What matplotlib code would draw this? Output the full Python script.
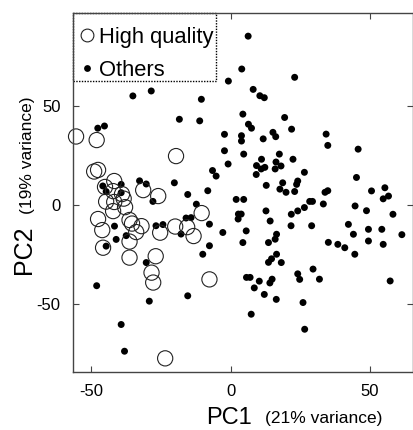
import matplotlib
matplotlib.use("Agg")
import matplotlib.pyplot as plt
from matplotlib.lines import Line2D
from matplotlib.patches import Rectangle

# ---- data ----
hq_pc1 = [-55.5, -48.1, -49.0, -47.6, -19.6, -41.8, -31.4, -26.0, -45.1, -42.2,
          -39.0, -44.7, -41.8, -38.4, -42.2, -37.9, -10.4, -47.6, -46.1, -36.3,
          -35.4, -32.0, -33.9, -36.3, -45.8, -36.3, -25.3, -19.9, -15.6, -13.3,
          -26.9, -28.4, -27.8, -7.6, -23.5]
hq_pc2 = [34.8, 33.0, 17.1, 17.9, 24.9, 12.3, 7.7, 4.7, 9.3, 7.2,
          5.7, 1.9, 1.7, 3.4, -2.9, -0.9, -3.9, -6.9, -12.5, -7.4,
          -9.2, -10.5, -13.5, -18.3, -21.4, -26.4, -13.8, -10.7, -11.0, -15.5,
          -25.7, -34.0, -39.0, -37.4, -77.3]

others_pc1 = [-35.1, -28.5, -47.7, -45.3, -32.7, -30.3, -45.9, -39.3, -44.7, -39.3,
              -27.9, -41.7, -41.1, -37.5, -44.7, -26.8, -24.3, -17.8, -16.0, -14.2,
              -12.3, -15.4, -20.2, -18.4, -11.1, -10.5, -8.2, -6.5, -5.2, -7.6,
              -7.6, -10.0, -2.8, -30.3, -48.1, -29.2, -15.4, -39.3, -38.1, -0.8,
              -2.2, -2.2, -0.9, 2.0, 4.7, 2.8, 3.8, 2.7, 4.4, 3.9,
              3.9, 4.7, 6.3, 4.0, 23.0, 8.1, 10.5, 12.1, 6.4, 7.5,
              19.4, 21.9, 11.7, 15.2, 16.2, 34.3, 34.9, 45.8, 11.1, 9.3,
              11.0, 12.3, 9.2, 16.3, 18.1, 16.0, 17.5, 22.4, 26.5, 12.8,
              18.7, 17.7, 19.9, 23.0, 24.1, 23.7, 33.9, 34.9, 45.2, 50.6,
              55.4, 56.7, 54.8, 12.7, 14.2, 5.6, 4.4, 16.5, 16.0, 13.6,
              16.5, 14.7, 13.6, 18.2, 21.8, 24.1, 26.5, 28.4, 29.4, 21.7,
              29.1, 33.3, 35.1, 38.5, 41.0, 44.7, 48.8, 58.3, 42.3, 44.1,
              49.5, 54.3, 61.5, 49.5, 54.8, 44.6, 57.3, 5.7, 7.0, 10.3,
              8.5, 12.1, 14.9, 14.1, 16.4, 24.1, 24.8, 29.6, 31.9, 26.0,
              7.4, 26.6]
others_pc2 = [55.3, 57.8, 39.0, 40.1, 12.4, 10.8, 9.8, 10.6, 7.0, 6.4,
              2.0, -10.5, -17.2, -15.3, -20.6, -10.3, -9.7, -14.5, -6.4, -6.2,
              0.6, 5.5, 11.4, 43.5, 42.7, 53.6, 7.4, 17.6, 14.8, -9.5,
              -20.4, -24.7, -13.7, -28.9, -40.6, -48.4, -45.7, -60.2, -73.7, 62.8,
              35.9, 27.6, 20.9, 3.0, 3.0, -4.4, -4.4, -6.9, 46.1, 35.2,
              32.5, 25.9, 85.5, 68.9, 64.7, 58.6, 55.4, 54.4, 41.0, 39.0,
              44.4, 38.5, 33.6, 36.9, 34.7, 36.0, 30.3, 28.4, 23.3, 20.1,
              18.4, 19.2, 15.6, 21.9, 19.9, 18.4, 25.9, 23.3, 16.7, 10.1,
              11.4, 8.2, 6.6, 7.0, 12.3, 10.6, 6.6, 7.4, 14.1, 7.3,
              8.9, 4.7, 3.3, -2.8, -7.9, -12.9, -18.8, -14.6, -17.1, -18.8,
              -24.7, -27.0, -28.8, -28.9, -4.5, -2.8, -1.1, 2.0, 2.0, -10.3,
              -10.3, 0.7, -18.7, -19.7, -21.4, -0.3, -2.7, -4.5, -9.6, -14.6,
              -12.1, -12.1, -14.8, -18.0, -19.7, -24.7, -38.2, -36.4, -36.4, -38.3,
              -41.7, -45.0, -37.3, -39.2, -47.5, -34.6, -37.4, -32.2, -37.3, -49.1,
              -55.0, -62.6]

xticks = [-50, 0, 50]
yticks = [-50, 0, 50]
legend_labels = ["High quality", "Others"]

# ---- figure ----
plt.rcParams['font.family'] = ['Liberation Sans', 'DejaVu Sans']
W, H = 414, 430
fig = plt.figure(figsize=(W / 100, H / 100), dpi=100)
ax = fig.add_axes([73 / W, 1 - 372 / H, (413 - 73) / W, (372 - 13) / H])

ax.scatter(others_pc1, others_pc2, s=25, c='black', edgecolors='none',
           zorder=3, clip_on=False)
ax.scatter(hq_pc1, hq_pc2, s=120, facecolors='none', edgecolors='#222222',
           linewidths=0.8, zorder=4, clip_on=False)

ax.set_xlim(-56.6, 65.5)
ax.set_ylim(-84.2, 97.2)
ax.set_xticks(xticks)
ax.set_yticks(yticks)
ax.set_xticklabels([str(t) for t in xticks])
ax.set_yticklabels([str(t) for t in yticks])
ax.tick_params(direction='in', length=4, width=0.8, colors='#444444',
               labelcolor='black', labelsize=12, top=True, right=True, pad=9)
for sp in ax.spines.values():
    sp.set_color('#444444')
    sp.set_linewidth(1.0)
    sp.set_zorder(8)

# axis labels
fig.text(206 / W, 1 - 424 / H, "PC1", fontsize=17, ha='left', va='baseline')
fig.text(265 / W, 1 - 423 / H, "(21% variance)", fontsize=12.5, ha='left', va='baseline')
fig.text(31 / W, 1 - 274 / H, "PC2", fontsize=18, ha='left', va='baseline',
         rotation=90, rotation_mode='anchor')
fig.text(32 / W, 1 - 214 / H, "(19% variance)", fontsize=12.5, ha='left', va='baseline',
         rotation=90, rotation_mode='anchor')

# legend box (dotted right/bottom edges; top/left sit on the spines)
box = Rectangle((0, 1 - (81 - 13) / 359), (216 - 73) / 340, (81 - 13) / 359,
                transform=ax.transAxes, facecolor='white', edgecolor='black',
                linewidth=1.0, linestyle=(0, (1, 1)), zorder=6, clip_on=False)
ax.add_patch(box)

handles = [Line2D([], [], linestyle='none', marker='o', markersize=9.2,
                  markerfacecolor='none', markeredgecolor='#222222', markeredgewidth=0.8),
           Line2D([], [], linestyle='none', marker='o', markersize=4.9,
                  markerfacecolor='black', markeredgecolor='none')]
leg = ax.legend(handles, legend_labels, loc='upper left', fontsize=15.8,
                bbox_to_anchor=(4 / 340, 1 - (27 - 13) / 359),
                borderaxespad=0, borderpad=0, handlelength=0.9,
                handletextpad=0.12, labelspacing=0.55, frameon=False)
leg.set_zorder(7)

fig.savefig("out.png", dpi=100)
